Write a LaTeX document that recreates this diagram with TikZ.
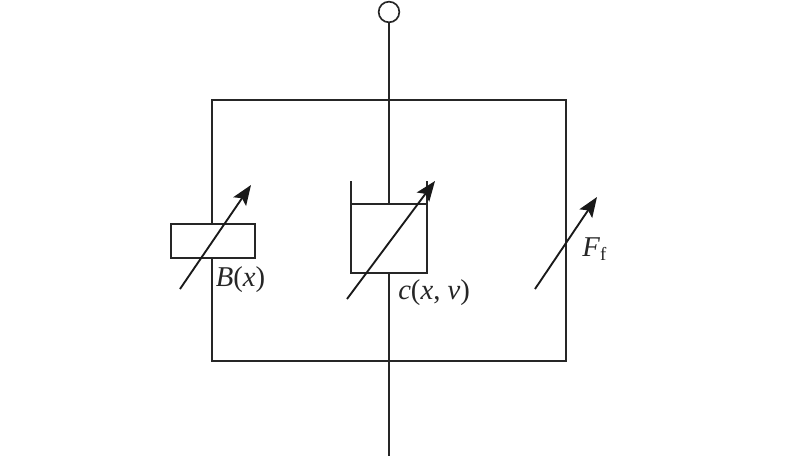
\documentclass[tikz,border=0pt]{standalone}
\usepackage{fontspec}
\setmainfont{Liberation Serif}
\usetikzlibrary{arrows.meta}
\tikzset{
  wire/.style={line width=1.25pt,draw=black!85},
  varrow/.style={line width=1.4pt,draw=black!90,-{Stealth[length=15pt,width=11.5pt,inset=3pt]}},
  lbl/.style={font=\fontsize{21.5}{24}\selectfont,inner sep=0pt,anchor=base west,text=black!85}
}
\begin{document}
\begin{tikzpicture}[x=0.75pt,y=-0.75pt]
\useasboundingbox (0,0) rectangle (800,458);
\fill[white] (0,0) rectangle (800,458);
\coordinate (bottom) at (389,456);
\coordinate (cupTop) at (389,204);
\coordinate (cupBot) at (389,273);
\coordinate (a1s) at (180,289); \coordinate (a1e) at (251,185);
\coordinate (a2s) at (347,299); \coordinate (a2e) at (435,181);
\coordinate (a3s) at (535,289); \coordinate (a3e) at (597,197);
\node[circle,draw=black!85,line width=1.25pt,minimum size=15.5pt,inner sep=0pt] (term) at (389,12) {};
\draw[wire] (term) -- (cupTop);
\draw[wire] (212,100) rectangle (566,361);
\node[draw=black!85,fill=white,line width=1.25pt,minimum width=63pt,minimum height=25.5pt,inner sep=0pt] (spring) at (213,241) {};
\draw[wire] (351,181) -- (351,273) -- (427,273) -- (427,181);
\draw[wire] (351,204) -- (427,204);
\draw[wire] (cupBot) -- (bottom);
\draw[varrow] (a1s) -- (a1e);
\draw[varrow] (a2s) -- (a2e);
\draw[varrow] (a3s) -- (a3e);
\node[lbl] (bl) at (215.5,286) {\textit{B}(\textit{x})};
\node[lbl] (cl) at (398,299.5) {\textit{c}(\textit{x}, \textit{v})};
\node[lbl] (fl) at (582,256) {\textit{F}\raisebox{-3pt}{\fontsize{14}{16}\selectfont f}};
\end{tikzpicture}
\end{document}
